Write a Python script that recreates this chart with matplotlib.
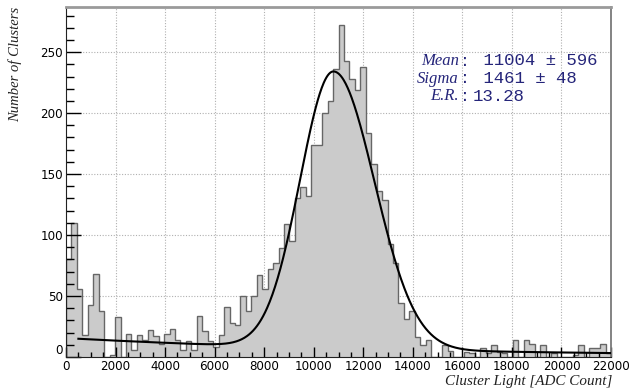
import numpy as np
import matplotlib
matplotlib.use("Agg")
import matplotlib.pyplot as plt
from matplotlib.ticker import MultipleLocator, FixedLocator
import matplotlib.transforms as mtransforms

# ---- data -------------------------------------------------------------
bin_edges_start = 0
bin_edges_stop = 22000
n_bins = 100
counts = [80, 110, 56, 18, 43, 68, 38, 0, 2, 33,
          0, 19, 6, 18, 14, 22, 17, 11, 19, 23,
          14, 6, 13, 6, 34, 21, 13, 8, 18, 41,
          28, 26, 50, 38, 50, 67, 56, 72, 77, 89,
          109, 95, 130, 139, 132, 174, 174, 200, 210, 236,
          272, 243, 228, 219, 238, 184, 158, 136, 129, 93,
          77, 44, 31, 38, 16, 10, 14, 0, 0, 10,
          5, 0, 0, 4, 3, 0, 7, 3, 10, 4,
          3, 0, 14, 0, 14, 11, 0, 10, 0, 3,
          0, 0, 0, 2, 10, 0, 7, 7, 11, 3]

# fitted curve parameters (read from the drawn fit)
fit_peak_amp = 227.0
fit_peak_pos = 10800.0
fit_sigma_left = 1350.0
fit_sigma_right = 1650.0
fit_bkg_amp = 15.5
fit_bkg_slope = 14000.0
fit_range = [500, 22000]

x_ticks = [0, 2000, 4000, 6000, 8000, 10000, 12000, 14000, 16000, 18000, 20000, 22000]
y_ticks = [0, 50, 100, 150, 200, 250]
x_tick_labels = [str(v) for v in x_ticks]
y_tick_labels = [str(v) for v in y_ticks]

stat_labels = ["Mean", "Sigma", "E.R."]
stat_values = [" 11004 \u00b1 596", " 1461 \u00b1 48", "13.28"]

# ---- figure -----------------------------------------------------------
W, H = 637, 388
fig = plt.figure(figsize=(W / 100, H / 100), dpi=100)

def fx(px):
    return px / W

def fy(py):
    return 1 - py / H

ax = fig.add_axes([fx(66), fy(357), fx(611) - fx(66), fy(7) - fy(357)])
ax.set_xlim(0, 22000)
ax.set_ylim(0, 287)

edges = np.linspace(bin_edges_start, bin_edges_stop, n_bins + 1)
cnt = np.array(counts, dtype=float)

# grid (behind histogram)
for xv in x_ticks[1:-1]:
    ax.axvline(xv, color="#b0b0b0", lw=0.8, ls=(0, (1, 1.5)), zorder=0.5)
for yv in y_ticks[1:]:
    ax.axhline(yv, color="#b0b0b0", lw=0.8, ls=(0, (1, 1.5)), zorder=0.5)

ax.stairs(cnt, edges, fill=True, color="#cbcbcb", zorder=1)
ax.stairs(cnt, edges, fill=False, color="#666666", lw=1.0, zorder=1.5)

xf = np.linspace(fit_range[0], fit_range[1], 800)
sig = np.where(xf < fit_peak_pos, fit_sigma_left, fit_sigma_right)
yf = fit_peak_amp * np.exp(-0.5 * ((xf - fit_peak_pos) / sig) ** 2) \
    + fit_bkg_amp * np.exp(-xf / fit_bkg_slope)
ax.plot(xf, yf, color="black", lw=1.5, zorder=3)

# ticks
ax.xaxis.set_major_locator(FixedLocator(x_ticks))
ax.xaxis.set_minor_locator(MultipleLocator(500))
ax.yaxis.set_major_locator(FixedLocator(y_ticks))
ax.yaxis.set_minor_locator(MultipleLocator(10))
ax.set_xticklabels(x_tick_labels)
ax.set_yticklabels(y_tick_labels)
ax.tick_params(axis="x", which="major", direction="in", length=7.2, width=1, pad=1.8,
               labelsize=8.6, top=False)
ax.tick_params(axis="x", which="minor", direction="in", length=3.6, width=1, top=False)
ax.tick_params(axis="y", which="major", direction="in", length=10.8, width=1, pad=2,
               labelsize=8.6, right=False)
ax.tick_params(axis="y", which="minor", direction="in", length=5.4, width=1, right=False)
for lab in ax.get_xticklabels() + ax.get_yticklabels():
    lab.set_fontfamily("DejaVu Sans")

# lift the y "0" label like ROOT does
ylabs = ax.get_yticklabels()
off = mtransforms.ScaledTranslation(0, 8 / 100, fig.dpi_scale_trans)
ylabs[0].set_transform(ylabs[0].get_transform() + off)

# spines
ax.spines["top"].set_color("#9a9a9a")
ax.spines["top"].set_linewidth(2)
ax.spines["right"].set_color("#7a7a7a")
ax.spines["right"].set_linewidth(1.3)
ax.spines["left"].set_color("#222222")
ax.spines["bottom"].set_color("#222222")

# axis titles
serif = "Liberation Serif"
fig.text(fx(612), fy(384.5), "Cluster Light [ADC Count]", ha="right", va="baseline",
         family=serif, style="italic", size=10.9, color="#222222")
fig.text(fx(15), fy(7), "Number of Clusters", ha="center", va="top", rotation=90,
         family=serif, style="italic", size=10.5, color="#222222")

# stats text (one multi-line block per column)
navy = "#25257a"
mono = "Liberation Mono"
top_y = 53
fig.text(fx(459), fy(top_y), "\n".join(stat_labels), ha="right", va="top",
         multialignment="right", family=serif, style="italic", size=12,
         color=navy, linespacing=1.14)
fig.text(fx(465), fy(top_y + 1), "\n".join([":"] * len(stat_labels)), ha="center",
         va="top", family=mono, size=12, color=navy, linespacing=1.2)
fig.text(fx(473), fy(top_y), "\n".join(stat_values), ha="left", va="top",
         multialignment="left", family=mono, size=12.5, color=navy, linespacing=1.24)

fig.savefig("out.png", dpi=100)
